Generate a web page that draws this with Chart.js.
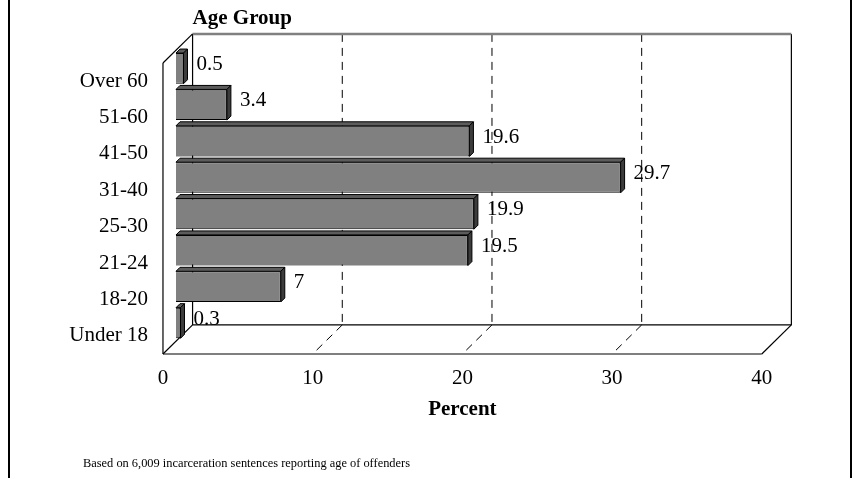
<!DOCTYPE html>
<html>
<head>
<meta charset="utf-8">
<script src="https://cdn.jsdelivr.net/npm/chart.js@4"></script>
<style>
  html, body { margin: 0; padding: 0; background: #fff; }
  #wrap { width: 853px; height: 478px; position: relative; }
</style>
</head>
<body>
<div id="wrap"><canvas id="c" width="853" height="478"></canvas></div>
<script>
// Age groups, listed top to bottom
const ageGroups = ['Over 60', '51-60', '41-50', '31-40', '25-30', '21-24', '18-20', 'Under 18'];
// Share of incarceration sentences (percent)
const percents = [0.5, 3.4, 19.6, 29.7, 19.9, 19.5, 7, 0.3];
// Value axis ticks
const xTicks = [0, 10, 20, 30, 40];

const SERIF = '"Liberation Serif", "Times New Roman", serif';
const MAIN_FONT = '21px ' + SERIF;
const BOLD_FONT = 'bold 21px ' + SERIF;

// Depth of the 3D box (front plane -> back wall) and where the bars sit in it
const DEPTH = { dx: 29.6, dy: -29.1 };
const BAR_PLANE = 0.44;
const BAR_DEPTH = 4;

function toFront(x, y) {
  return [x - BAR_PLANE * DEPTH.dx, y - BAR_PLANE * DEPTH.dy];
}
function toBack(x, y) {
  return [x + (1 - BAR_PLANE) * DEPTH.dx, y + (1 - BAR_PLANE) * DEPTH.dy];
}

function line(ctx, a, b) {
  ctx.beginPath();
  ctx.moveTo(a[0], a[1]);
  ctx.lineTo(b[0], b[1]);
  ctx.stroke();
}

const box3d = {
  id: 'box3d',
  beforeDatasetsDraw(chart) {
    const ctx = chart.ctx;
    const a = chart.chartArea;
    const xs = chart.scales.x;
    const fBL = toFront(a.left, a.bottom), fTL = toFront(a.left, a.top), fBR = toFront(a.right, a.bottom);
    const bBL = toBack(a.left, a.bottom), bTL = toBack(a.left, a.top);
    const bBR = toBack(a.right, a.bottom), bTR = toBack(a.right, a.top);
    ctx.save();

    // dashed gridlines on the back wall and floor
    ctx.strokeStyle = '#000';
    ctx.lineWidth = 1;
    ctx.setLineDash([8, 6]);
    xTicks.slice(1, -1).forEach(v => {
      const px = xs.getPixelForValue(v);
      const b1 = toBack(px, a.top), b2 = toBack(px, a.bottom), f2 = toFront(px, a.bottom);
      line(ctx, b1, b2);
      line(ctx, b2, f2);
    });
    ctx.setLineDash([]);

    // back wall edges
    ctx.lineWidth = 1.2;
    line(ctx, bTL, bBL);
    line(ctx, bBL, bBR);
    line(ctx, bBR, bTR);
    ctx.strokeStyle = '#808080';
    ctx.lineWidth = 2.5;
    line(ctx, bTL, bTR);

    // side wall and floor
    ctx.strokeStyle = '#000';
    ctx.lineWidth = 1.2;
    line(ctx, fTL, bTL);
    line(ctx, fTL, fBL);
    line(ctx, fBL, bBL);
    line(ctx, fBL, fBR);
    line(ctx, fBR, bBR);

    ctx.restore();
  },
  afterDatasetsDraw(chart) {
    const ctx = chart.ctx;
    const meta = chart.getDatasetMeta(0);
    const data = chart.data.datasets[0].data;
    ctx.save();
    ctx.lineWidth = 1;
    ctx.strokeStyle = '#000';
    meta.data.forEach((bar, i) => {
      const p = bar.getProps(['x', 'y', 'base', 'height'], true);
      const top = p.y - p.height / 2, bottom = p.y + p.height / 2;
      const d = BAR_DEPTH;
      // top face
      ctx.fillStyle = '#5c5c5c';
      ctx.beginPath();
      ctx.moveTo(p.base, top);
      ctx.lineTo(p.base + d, top - d);
      ctx.lineTo(p.x + d, top - d);
      ctx.lineTo(p.x, top);
      ctx.closePath();
      ctx.fill();
      ctx.stroke();
      // side face
      ctx.fillStyle = '#3c3c3c';
      ctx.beginPath();
      ctx.moveTo(p.x, top);
      ctx.lineTo(p.x + d, top - d);
      ctx.lineTo(p.x + d, bottom - d);
      ctx.lineTo(p.x, bottom);
      ctx.closePath();
      ctx.fill();
      ctx.stroke();
      // value label
      ctx.fillStyle = '#000';
      ctx.font = MAIN_FONT;
      ctx.textAlign = 'left';
      ctx.textBaseline = 'middle';
      ctx.fillText(String(data[i]), p.x + 13, p.y - 4);
    });
    ctx.restore();
  },
  afterDraw(chart) {
    const ctx = chart.ctx;
    const a = chart.chartArea;
    const xs = chart.scales.x, ys = chart.scales.y;
    ctx.save();
    ctx.fillStyle = '#000';
    ctx.textBaseline = 'middle';

    // value axis tick labels along the front edge
    ctx.font = MAIN_FONT;
    ctx.textAlign = 'center';
    xTicks.forEach(v => {
      const f = toFront(xs.getPixelForValue(v), a.bottom);
      ctx.fillText(String(v), f[0], 378);
    });

    // category labels
    ctx.textAlign = 'right';
    ageGroups.forEach((g, i) => {
      const f = toFront(a.left, ys.getPixelForValue(i));
      ctx.fillText(g, f[0] - 15, f[1]);
    });

    // axis titles
    ctx.font = BOLD_FONT;
    ctx.textAlign = 'center';
    const mid = toFront(xs.getPixelForValue(20), a.bottom);
    ctx.fillText('Percent', mid[0], 410);
    ctx.textAlign = 'left';
    ctx.fillText('Age Group', toBack(a.left, a.top)[0], 19);

    // footnote
    ctx.font = '12.4px ' + SERIF;
    ctx.fillText('Based on 6,009 incarceration sentences reporting age of offenders', 83, 464);

    // outer frame
    ctx.strokeStyle = '#000';
    ctx.lineWidth = 2;
    line(ctx, [9, 0], [9, 478]);
    line(ctx, [851, 0], [851, 478]);
    ctx.restore();
  }
};

new Chart(document.getElementById('c'), {
  type: 'bar',
  data: {
    labels: ageGroups,
    datasets: [{
      data: percents,
      backgroundColor: '#808080',
      borderColor: '#000',
      borderWidth: 1,
      barPercentage: 0.843,
      categoryPercentage: 1
    }]
  },
  options: {
    indexAxis: 'y',
    responsive: false,
    animation: false,
    devicePixelRatio: 1,
    layout: { padding: { left: 176, right: 78.2, top: 50.2, bottom: 136.8 } },
    scales: {
      x: { display: false, min: 0, max: 40 },
      y: { display: false, offset: true }
    },
    plugins: {
      legend: { display: false },
      tooltip: { enabled: false }
    }
  },
  plugins: [box3d]
});
</script>
</body>
</html>
